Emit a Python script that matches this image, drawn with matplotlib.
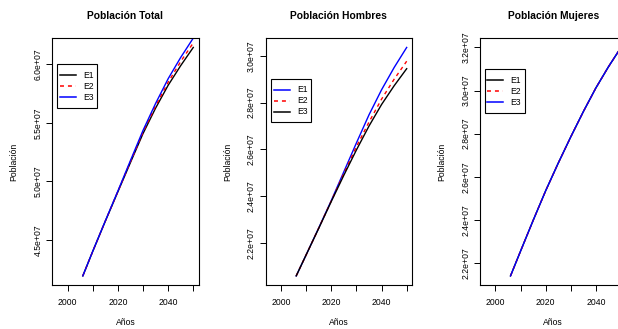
import matplotlib
matplotlib.use("Agg")
import matplotlib.pyplot as plt
from matplotlib.lines import Line2D
from matplotlib.patches import Rectangle
import numpy as np

plt.rcParams['font.family'] = ['Liberation Sans', 'DejaVu Sans']

# Projection years
years = [2006, 2010, 2015, 2020, 2025, 2030, 2035, 2040, 2045, 2050]

# Total population by scenario
total_e1 = [4.193e7, 4.405e7, 4.662e7, 4.913e7, 5.163e7, 5.410e7, 5.627e7, 5.822e7, 5.990e7, 6.145e7]
total_e2 = [4.193e7, 4.405e7, 4.663e7, 4.916e7, 5.170e7, 5.422e7, 5.645e7, 5.848e7, 6.025e7, 6.184e7]
total_e3 = [4.193e7, 4.406e7, 4.665e7, 4.920e7, 5.180e7, 5.437e7, 5.667e7, 5.878e7, 6.060e7, 6.225e7]

# Male population by scenario
hombres_e1 = [2.059e7, 2.150e7, 2.265e7, 2.382e7, 2.505e7, 2.628e7, 2.748e7, 2.855e7, 2.950e7, 3.036e7]
hombres_e2 = [2.059e7, 2.150e7, 2.264e7, 2.380e7, 2.497e7, 2.612e7, 2.717e7, 2.815e7, 2.900e7, 2.977e7]
hombres_e3 = [2.059e7, 2.150e7, 2.263e7, 2.378e7, 2.490e7, 2.598e7, 2.700e7, 2.792e7, 2.872e7, 2.945e7]

# Female population by scenario
mujeres_e1 = [2.140e7, 2.255e7, 2.397e7, 2.535e7, 2.663e7, 2.785e7, 2.902e7, 3.012e7, 3.110e7, 3.200e7]
mujeres_e2 = [2.140e7, 2.255e7, 2.397e7, 2.535e7, 2.663e7, 2.785e7, 2.902e7, 3.012e7, 3.110e7, 3.200e7]
mujeres_e3 = [2.140e7, 2.255e7, 2.397e7, 2.535e7, 2.663e7, 2.785e7, 2.902e7, 3.012e7, 3.110e7, 3.200e7]

legend_labels = ["E1", "E2", "E3"]
x_ticks = [2000, 2010, 2020, 2030, 2040, 2050]
x_tick_labels = ["2000", "", "2020", "", "2040", ""]

BLACK = "#000000"
RED = "#FF0000"
BLUE = "#0000FF"
SOLID = "-"
DASH = (0, (2.6, 2.6))

W, H = 618, 329
fig = plt.figure(figsize=(W / 100, H / 100), dpi=100)

AX_W = 146.4
AX_H = 246.7
AX_BOTTOM = 285.0


def make_axes(left_px):
    return fig.add_axes([left_px / W, (H - AX_BOTTOM) / H, AX_W / W, AX_H / H])


def draw_legend(ax, handles_style, labels, dx, dy):
    """Boxed legend placed dx, dy pixels from the axes' top-left corner."""
    fx = lambda px: px / AX_W
    fy = lambda py: 1 - py / AX_H
    box_w, box_h = 40.0, 43.7
    ax.add_patch(Rectangle((fx(dx), fy(dy + box_h)), box_w / AX_W, box_h / AX_H,
                           transform=ax.transAxes, facecolor="white",
                           edgecolor="#000000", linewidth=0.8, zorder=5,
                           clip_on=False))
    for i, ((color, ls), lab) in enumerate(zip(handles_style, labels)):
        yrow = dy + 11.0 * (i + 1)
        ax.add_line(Line2D([fx(dx + 2.5), fx(dx + 18.7)], [fy(yrow), fy(yrow)],
                           transform=ax.transAxes, color=color, linestyle=ls,
                           linewidth=1.1, zorder=6, clip_on=False))
        ax.text(fx(dx + 26), fy(yrow), lab, transform=ax.transAxes,
                ha="left", va="center", fontsize=FS, zorder=6)


FS = 6.2
FS_TITLE = 7.4

panels = [
    dict(left=52.3, title="Población Total",
         series=[(total_e1, BLACK, SOLID), (total_e2, RED, DASH), (total_e3, BLUE, SOLID)],
         yticks=[4.5e7, 5.0e7, 5.5e7, 6.0e7], legend_at=(5.0, 25.7)),
    dict(left=265.7, title="Población Hombres",
         series=[(hombres_e1, BLUE, SOLID), (hombres_e2, RED, DASH), (hombres_e3, BLACK, SOLID)],
         yticks=[2.2e7, 2.4e7, 2.6e7, 2.8e7, 3.0e7], legend_at=(5.3, 40.4)),
    dict(left=480.0, title="Población Mujeres",
         series=[(mujeres_e1, BLACK, SOLID), (mujeres_e2, RED, DASH), (mujeres_e3, BLUE, SOLID)],
         yticks=[2.2e7, 2.4e7, 2.6e7, 2.8e7, 3.0e7, 3.2e7], legend_at=(4.7, 31.0)),
]

for p in panels:
    ax = make_axes(p["left"])
    for vals, color, ls in p["series"]:
        ax.plot(years, vals, color=color, linestyle=ls, linewidth=1.0)

    # y range from the first series, padded 4% each side
    first = np.asarray(p["series"][0][0])
    lo, hi = first.min(), first.max()
    pad = 0.04 * (hi - lo)
    ax.set_ylim(lo - pad, hi + pad)
    ax.set_xlim(1993.84, 2052.16)

    ax.set_xticks(x_ticks)
    ax.set_xticklabels(x_tick_labels)
    ax.set_yticks(p["yticks"])
    ax.set_yticklabels([f"{v:.1e}" for v in p["yticks"]], rotation=90, va="center")
    ax.tick_params(axis="both", direction="out", length=4.5, width=0.7,
                   labelsize=FS, colors="#000000")
    ax.tick_params(axis="x", pad=5)
    ax.tick_params(axis="y", pad=2.5)
    for s in ax.spines.values():
        s.set_linewidth(0.8)

    ax.text(0.5, 1.090, p["title"], transform=ax.transAxes, ha="center", va="center",
            fontsize=FS_TITLE, fontweight="bold")
    ax.text(0.5, -0.153, "Años", transform=ax.transAxes, ha="center", va="center",
            fontsize=FS)
    ax.text(-0.262, 0.5, "Población", transform=ax.transAxes, ha="center", va="center",
            rotation=90, fontsize=FS)

    draw_legend(ax, [(c, ls) for _, c, ls in p["series"]], legend_labels, *p["legend_at"])

fig.savefig("out.png", dpi=100)
